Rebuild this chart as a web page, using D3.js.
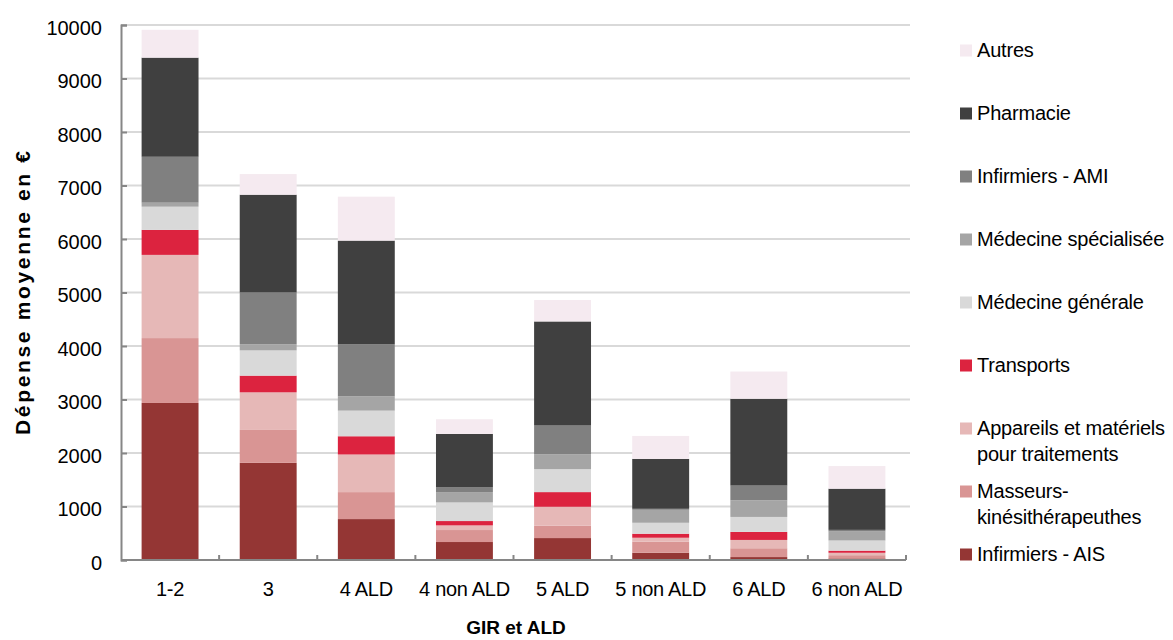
<!DOCTYPE html>
<html><head><meta charset="utf-8">
<script src="https://cdn.jsdelivr.net/npm/d3@7/dist/d3.min.js"></script>
<style>body{margin:0;background:#fff;}svg{display:block;font-family:"Liberation Sans",Arial,sans-serif;}</style>
</head><body><svg id="c" width="1173" height="640"></svg>
<script>
const categories = ["1-2","3","4 ALD","4 non ALD","5 ALD","5 non ALD","6 ALD","6 non ALD"];
const seriesNames = ["Infirmiers - AIS","Masseurs-kinésithérapeuthes","Appareils et matériels pour traitements","Transports","Médecine générale","Médecine spécialisée","Infirmiers - AMI","Pharmacie","Autres"];
const infirmiersAIS = [2935,1816,765,336,410,136,55,30];
const masseurs      = [1213,615,504,224,230,205,165,60];
const appareils     = [1555,703,703,87,355,75,155,45];
const transports    = [467,312,341,81,274,75,150,40];
const medGenerale   = [434,472,479,348,429,205,280,190];
const medSpecialisee= [75,112,268,193,280,242,311,168];
const infirmiersAMI = [858,970,970,87,535,19,275,30];
const pharmacie     = [1853,1828,1940,1001,1946,933,1623,770];
const autres        = [520,386,821,274,400,429,509,423];
const yTicks = [0,1000,2000,3000,4000,5000,6000,7000,8000,9000,10000];
const colors = ["#943634","#d99594","#e6b8b7","#dc233f","#d9d9d9","#a5a5a5","#808080","#404040","#f5eaf0"];
const legendLines = [["Autres"],["Pharmacie"],["Infirmiers - AMI"],["Médecine spécialisée"],["Médecine générale"],["Transports"],["Appareils et matériels","pour traitements"],["Masseurs-","kinésithérapeuthes"],["Infirmiers - AIS"]];

const seriesValues = [infirmiersAIS,masseurs,appareils,transports,medGenerale,medSpecialisee,infirmiersAMI,pharmacie,autres];
const rows = categories.map((c,i)=>{const r={cat:c}; seriesNames.forEach((s,j)=>r[s]=seriesValues[j][i]); return r;});
const stacked = d3.stack().keys(seriesNames)(rows);

const svg = d3.select("#c");
const L=121, R=906, T=25, B=560;
const x = d3.scaleBand().domain(categories).range([L,R]).paddingInner(0.42).paddingOuter(0.21);
const y = d3.scaleLinear().domain([0,10000]).range([B,T]);

// gridlines
svg.append("g").selectAll("line").data(yTicks.filter(d=>d>0)).join("line")
  .attr("x1",L).attr("x2",910).attr("y1",d=>y(d)).attr("y2",d=>y(d))
  .attr("stroke","#d9d9d9").attr("stroke-width",2);

// bars
svg.append("g").selectAll("g").data(stacked).join("g")
  .attr("fill",(d,i)=>colors[i])
  .selectAll("rect").data(d=>d).join("rect")
  .attr("x",d=>x(d.data.cat)).attr("width",x.bandwidth())
  .attr("y",d=>y(d[1])).attr("height",d=>Math.max(0,y(d[0])-y(d[1])));

// y axis
const yAxis = d3.axisLeft(y).tickValues(yTicks).tickSize(-6).tickPadding(19).tickFormat(d3.format("d"));
const ga = svg.append("g").attr("transform",`translate(${L},0)`).call(yAxis);
ga.select(".domain").attr("stroke","#868686").attr("stroke-width",2);
ga.selectAll(".tick line").attr("stroke","#868686").attr("stroke-width",2);
ga.selectAll("text").attr("font-size",20).attr("fill","#000").attr("font-family","Liberation Sans, Arial, sans-serif").attr("dy","9px");

// x axis
const step = x.step();
const bounds = d3.range(categories.length+1).map(i=>L+i*step);
svg.append("line").attr("x1",L).attr("x2",R).attr("y1",B).attr("y2",B).attr("stroke","#868686").attr("stroke-width",2);
svg.append("g").selectAll("line").data(bounds.slice(1)).join("line")
  .attr("x1",d=>d).attr("x2",d=>d).attr("y1",B).attr("y2",B-5).attr("stroke","#868686").attr("stroke-width",2);
svg.append("g").selectAll("text").data(categories).join("text")
  .attr("x",d=>x(d)+x.bandwidth()/2).attr("y",596).attr("text-anchor","middle")
  .attr("font-size",20).attr("letter-spacing","-0.3px").text(d=>d);

// axis titles
svg.append("text").attr("transform","translate(30,293) rotate(-90)").attr("text-anchor","middle")
  .attr("font-size",21).attr("font-weight","bold").attr("textLength",284).attr("lengthAdjust","spacing")
  .text("Dépense moyenne en €");
svg.append("text").attr("x",516).attr("y",634).attr("text-anchor","middle")
  .attr("font-size",19).attr("font-weight","bold").text("GIR et ALD");

// legend
const lg = svg.append("g");
legendLines.forEach((lines,i)=>{
  const ci = seriesNames.length-1-i;
  const base = 56.5 + 63*i;
  lg.append("rect").attr("x",960).attr("y",base-12).attr("width",12).attr("height",12).attr("fill",colors[ci]);
  const t = lg.append("text").attr("x",977).attr("y",base).attr("font-size",20).attr("letter-spacing","-0.2px");
  lines.forEach((ln,k)=>t.append("tspan").attr("x",977).attr("dy",k===0?0:26.5).text(ln));
});
</script></body></html>
